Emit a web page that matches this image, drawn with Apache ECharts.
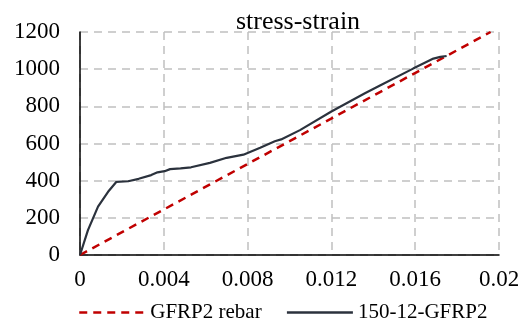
<!DOCTYPE html>
<html>
<head>
<meta charset="utf-8">
<script src="https://cdn.jsdelivr.net/npm/echarts@6/dist/echarts.min.js"></script>
<style>
  html, body { margin: 0; padding: 0; background: #fff; }
  #chart { width: 523px; height: 327px; }
</style>
</head>
<body>
<div id="chart"></div>
<script>
// Stress-strain curves: reference GFRP2 rebar line and the 150-12-GFRP2 specimen
const xTicks = [0, 0.004, 0.008, 0.012, 0.016, 0.02];
const yTicks = [0, 200, 400, 600, 800, 1000, 1200];

const rebarStrain = [0, 0.0196];
const rebarStress = [0, 1200];

const specimenStrain = [0, 0.00038, 0.00086, 0.00134, 0.00173, 0.0023, 0.0028, 0.0034, 0.0037, 0.00404,
  0.0043, 0.0048, 0.0053, 0.0062, 0.007, 0.0078, 0.0086, 0.0093, 0.0096, 0.0105, 0.012, 0.0136,
  0.01432, 0.0159, 0.01687, 0.0172, 0.0175];
const specimenStress = [0, 134, 260, 340, 393, 397, 410, 430, 445, 451,
  462, 466, 472, 496, 523, 540, 577, 612, 622, 672, 772, 870,
  912, 1003, 1057, 1066, 1071];

const zip = (xs, ys) => xs.map((x, i) => [x, ys[i]]);

const font = 'Liberation Serif, Times New Roman, serif';
const chart = echarts.init(document.getElementById('chart'));
chart.setOption({
  animation: false,
  title: {
    text: 'stress-strain',
    left: 293, top: 4, textAlign: 'center',
    textStyle: { fontFamily: font, fontSize: 26, fontWeight: 'normal', color: '#000' }
  },
  grid: { left: 80, right: 24, top: 32, bottom: 72 },
  legend: {
    bottom: -1, left: 73,
    itemWidth: 66, itemHeight: 12, itemGap: 24,
    itemStyle: { opacity: 0 },
    lineStyle: { width: 2.5 },
    textStyle: { fontFamily: font, fontSize: 21, color: '#000' },
    data: ['GFRP2 rebar', '150-12-GFRP2']
  },
  xAxis: {
    type: 'value', min: xTicks[0], max: xTicks[xTicks.length - 1],
    interval: xTicks[1] - xTicks[0],
    axisLine: { lineStyle: { color: '#000', width: 1.5 } },
    axisTick: { show: false },
    axisLabel: { fontFamily: font, fontSize: 23, color: '#000', margin: 13,
      formatter: v => String(+v.toFixed(3)) },
    splitLine: { show: true, lineStyle: { color: '#c0c0c0', width: 1.5, type: [8, 6] } }
  },
  yAxis: {
    type: 'value', min: yTicks[0], max: yTicks[yTicks.length - 1],
    interval: yTicks[1] - yTicks[0],
    axisLine: { show: true, lineStyle: { color: '#000', width: 1.5 } },
    axisTick: { show: false },
    axisLabel: { fontFamily: font, fontSize: 23, color: '#000', margin: 20,
      formatter: v => String(v) },
    splitLine: { show: true, lineStyle: { color: '#c0c0c0', width: 1.5, type: [8, 6] } }
  },
  series: [
    {
      name: 'GFRP2 rebar', type: 'line', symbol: 'none',
      data: zip(rebarStrain, rebarStress),
      lineStyle: { color: '#c00000', width: 2.5, type: [8, 6] },
      itemStyle: { color: '#c00000' }
    },
    {
      name: '150-12-GFRP2', type: 'line', symbol: 'none',
      data: zip(specimenStrain, specimenStress),
      lineStyle: { color: '#2b323d', width: 2.2 },
      itemStyle: { color: '#2b323d' }
    }
  ]
});
</script>
</body>
</html>
